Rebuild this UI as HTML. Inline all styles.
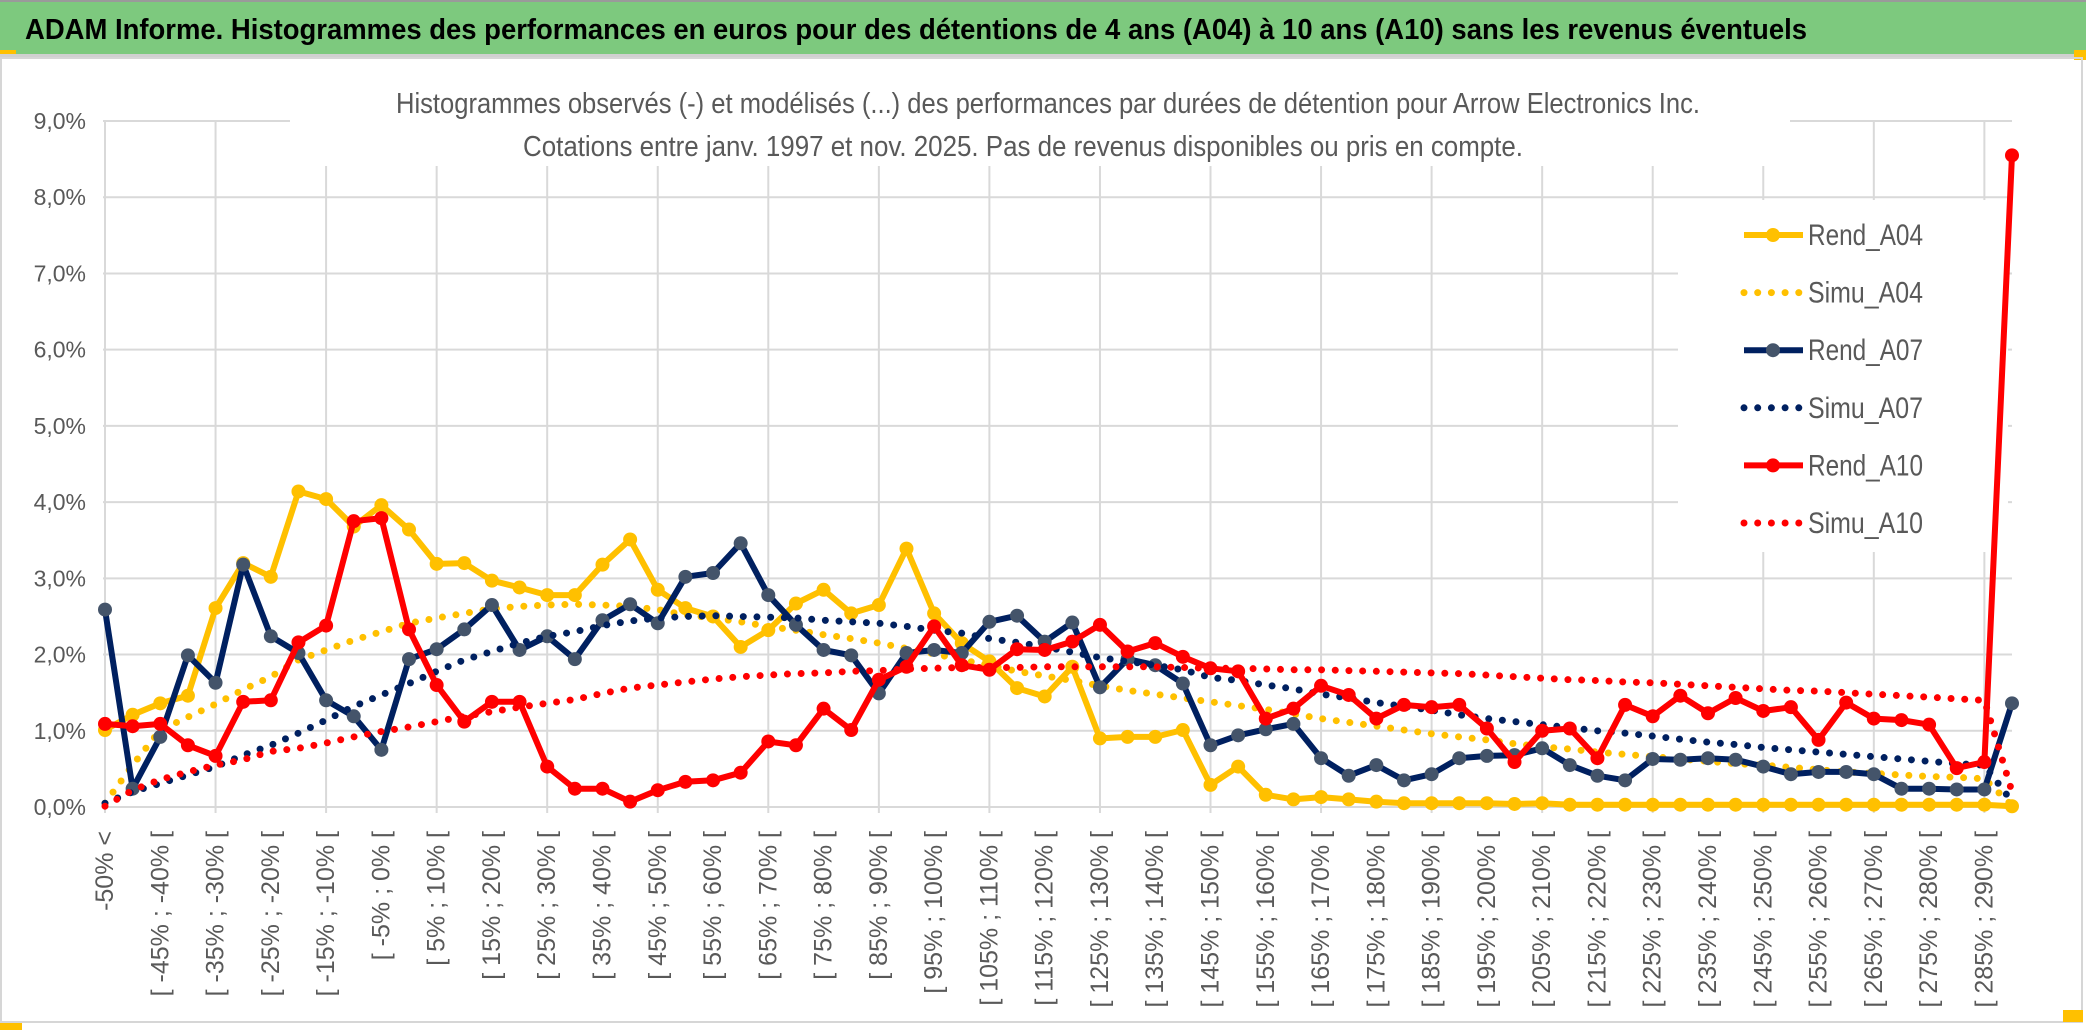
<!DOCTYPE html>
<html><head><meta charset="utf-8">
<style>
html,body{margin:0;padding:0;background:#fff;width:2086px;height:1033px;overflow:hidden}
svg{display:block}
text{font-family:"Liberation Sans Narrow","Liberation Sans",sans-serif}
</style></head>
<body>
<svg id="chart" width="2086" height="1033" viewBox="0 0 2086 1033" xmlns="http://www.w3.org/2000/svg">
  <rect x="0" y="0" width="2086" height="1033" fill="#ffffff"/>
  <rect x="0" y="2" width="2086" height="52" fill="#7dc97e"/>
  <rect x="0" y="0" width="2086" height="2" fill="#9a9a9a"/>
  <rect x="0" y="54" width="2086" height="3" fill="#d0d0d0"/>
  <rect x="0" y="50" width="16" height="4" fill="#ffc000"/>
  <rect x="2074" y="50" width="12" height="10" fill="#ffc000"/>
  <text x="25" y="39" font-size="29" font-weight="bold" fill="#000" textLength="1782" lengthAdjust="spacingAndGlyphs">ADAM Informe. Histogrammes des performances en euros pour des détentions de 4 ans (A04) à 10 ans (A10) sans les revenus éventuels</text>
  <rect x="1" y="58" width="2081" height="964" fill="none" stroke="#d6d6d6" stroke-width="2"/>
  <rect x="0" y="1023" width="22" height="7" fill="#ffc000"/>
  <rect x="2063" y="1010" width="20" height="12" fill="#ffc000"/>
  <g id="grid"></g>
  <g id="yaxis"></g>
  <g id="xaxis"></g>
  <rect x="290" y="78" width="1500" height="88" fill="#fff"/>
  <text x="396" y="113" font-size="29" fill="#595959" textLength="1304" lengthAdjust="spacingAndGlyphs">Histogrammes observés (-) et modélisés (...) des performances par durées de détention pour Arrow Electronics Inc.</text>
  <text x="523" y="156" font-size="29" fill="#595959" textLength="1000" lengthAdjust="spacingAndGlyphs">Cotations entre janv. 1997 et nov. 2025. Pas de revenus disponibles ou pris en compte.</text>
  <rect x="1678" y="200" width="330" height="352" fill="#fff"/>
  <g id="series"></g>
  <g id="legend"></g>
</svg>
<script>
const categoriesCount = 70;
const yTicks = [0,1,2,3,4,5,6,7,8,9];
const rendA04 = [1.01,1.21,1.36,1.46,2.61,3.20,3.02,4.14,4.04,3.68,3.96,3.64,3.19,3.20,2.97,2.88,2.78,
 2.78,3.18,3.51,2.85,2.61,2.50,2.10,2.32,2.67,2.85,2.54,2.65,3.39,2.54,2.15,1.91,1.56,
 1.45,1.84,0.90,0.92,0.92,1.01,0.29,0.53,0.16,0.10,0.13,0.10,0.07,0.05,0.05,0.05,0.05,
 0.04,0.05,0.03,0.03,0.03,0.03,0.03,0.03,0.03,0.03,0.03,0.03,0.03,0.03,0.03,0.03,0.03,0.03,0.01];
const simuA04 = [0.05,0.55,1.01,1.18,1.35,1.54,1.71,1.93,2.06,2.19,2.30,2.41,2.48,2.54,2.60,2.63,2.65,
 2.66,2.65,2.63,2.59,2.52,2.48,2.43,2.37,2.32,2.26,2.21,2.15,2.08,2.01,1.93,1.86,1.78,
 1.72,1.66,1.59,1.53,1.48,1.43,1.38,1.33,1.28,1.22,1.16,1.11,1.06,1.01,0.96,0.92,0.88,
 0.83,0.79,0.76,0.72,0.69,0.66,0.63,0.60,0.57,0.55,0.52,0.49,0.46,0.44,0.42,0.40,0.39,0.37,0.02];
const rendA07 = [2.59,0.24,0.92,1.99,1.63,3.18,2.24,2.02,1.40,1.19,0.75,1.94,2.07,2.33,2.65,2.06,2.24,
 1.94,2.45,2.66,2.41,3.02,3.07,3.46,2.78,2.39,2.06,1.99,1.49,2.02,2.06,2.02,2.43,2.51,
 2.17,2.42,1.57,1.94,1.86,1.62,0.81,0.94,1.02,1.09,0.64,0.41,0.55,0.35,0.43,0.64,0.67,
 0.68,0.77,0.55,0.41,0.35,0.63,0.62,0.64,0.62,0.53,0.43,0.46,0.46,0.43,0.24,0.24,0.23,0.23,1.36];
const simuA07 = [0.05,0.20,0.31,0.42,0.53,0.68,0.81,0.97,1.14,1.32,1.47,1.62,1.78,1.93,2.04,2.15,2.24,
 2.30,2.38,2.44,2.48,2.50,2.51,2.50,2.49,2.48,2.45,2.43,2.41,2.37,2.32,2.28,2.21,2.16,
 2.10,2.03,1.96,1.91,1.86,1.80,1.70,1.66,1.60,1.55,1.48,1.43,1.37,1.32,1.27,1.21,1.16,
 1.12,1.08,1.04,1.00,0.97,0.93,0.89,0.85,0.82,0.78,0.75,0.72,0.69,0.66,0.63,0.60,0.57,0.55,0.07];
const rendA10 = [1.09,1.06,1.09,0.81,0.67,1.38,1.40,2.16,2.38,3.75,3.79,2.33,1.60,1.12,1.38,1.38,0.53,
 0.24,0.24,0.07,0.22,0.33,0.35,0.45,0.86,0.81,1.29,1.01,1.67,1.84,2.37,1.86,1.80,2.07,
 2.06,2.17,2.39,2.04,2.15,1.97,1.82,1.78,1.16,1.29,1.59,1.47,1.16,1.34,1.31,1.34,1.03,
 0.59,1.00,1.03,0.64,1.34,1.19,1.46,1.23,1.43,1.26,1.31,0.88,1.37,1.16,1.14,1.08,0.51,0.59,8.55];
const simuA10 = [0.01,0.22,0.36,0.46,0.55,0.62,0.73,0.77,0.84,0.92,0.99,1.05,1.12,1.19,1.25,1.31,1.36,
 1.41,1.49,1.56,1.60,1.64,1.68,1.71,1.73,1.75,1.76,1.78,1.79,1.81,1.82,1.83,1.83,1.83,
 1.84,1.84,1.84,1.84,1.84,1.83,1.82,1.82,1.81,1.80,1.80,1.79,1.78,1.77,1.76,1.75,1.73,
 1.71,1.69,1.67,1.66,1.64,1.63,1.61,1.59,1.57,1.55,1.53,1.52,1.50,1.48,1.46,1.44,1.42,1.40,0.20];
const seriesNames = ["Rend_A04","Simu_A04","Rend_A07","Simu_A07","Rend_A10","Simu_A10"];

const NS = "http://www.w3.org/2000/svg";
const X0 = 105, X1 = 2012, Y0 = 807, YPER = 76.22;
function xPos(i){ return X0 + i * (X1 - X0) / (categoriesCount - 1); }
function yPos(v){ return Y0 - v * YPER; }
function mk(tag, attrs, parent){ const e = document.createElementNS(NS, tag); for (const k in attrs) e.setAttribute(k, attrs[k]); parent.appendChild(e); return e; }
function catLabel(i){
  if (i === 0) return "-50% <";
  const lo = -50 + 5 * (i - 1), hi = lo + 5;
  return "[ " + lo + "% ; " + hi + "% [";
}

const grid = document.getElementById('grid');
yTicks.forEach(t => {
  const l = mk('line', {x1: X0 - 2, x2: X1, y1: yPos(t), y2: yPos(t), stroke: '#d9d9d9', 'stroke-width': 2}, grid);
  
  
});
for (let i = 0; i < categoriesCount; i += 4) {
  const l = mk('line', {x1: xPos(i), x2: xPos(i), y1: yPos(9), y2: Y0 + 6, stroke: '#d9d9d9', 'stroke-width': 2}, grid);
  
  
}
const yaxis = document.getElementById('yaxis');
yTicks.forEach(t => {
  const tx = mk('text', {x: 86, y: yPos(t) + 8, 'text-anchor': 'end', 'font-size': 23, fill: '#595959'}, yaxis);
  tx.textContent = t.toFixed(1).replace('.', ',') + '%';
  
  
});
const xaxis = document.getElementById('xaxis');
for (let i = 0; i < categoriesCount; i += 2) {
  const x = xPos(i) + 8;
  const tx = mk('text', {x: x, y: 831, 'text-anchor': 'end', 'font-size': 25, fill: '#595959', transform: 'rotate(-90 ' + x + ' 831)'}, xaxis);
  tx.textContent = catLabel(i);
  
  
}

const series = document.getElementById('series');
function drawRend(arr, color, marker, name){
  const g = mk('g', {}, series);
  
  
  const pts = arr.map((v, i) => xPos(i).toFixed(1) + ',' + yPos(v).toFixed(1)).join(' ');
  const pl = mk('polyline', {points: pts, fill: 'none', stroke: color, 'stroke-width': 6, 'stroke-linejoin': 'round'}, g);
  
  
  arr.forEach((v, i) => {
    const c = mk('circle', {cx: xPos(i), cy: yPos(v), r: 7, fill: marker}, g);
    
    
  });
}
function drawSimu(arr, color, name){
  const pts = arr.map((v, i) => xPos(i).toFixed(1) + ',' + yPos(v).toFixed(1)).join(' ');
  const pl = mk('polyline', {points: pts, fill: 'none', stroke: color, 'stroke-width': 7, 'stroke-linecap': 'round', 'stroke-dasharray': '0 13.7'}, series);
  
  
}
drawRend(rendA04, '#ffc000', '#ffc000', 'rend-a04');
drawSimu(simuA04, '#ffc000', 'simu-a04');
drawRend(rendA07, '#002060', '#44546a', 'rend-a07');
drawSimu(simuA07, '#002060', 'simu-a07');
drawRend(rendA10, '#ff0000', '#ff0000', 'rend-a10');
drawSimu(simuA10, '#ff0000', 'simu-a10');

const legend = document.getElementById('legend');
const legColors = ['#ffc000','#ffc000','#002060','#002060','#ff0000','#ff0000'];
const legMarkers = ['#ffc000','#ffc000','#44546a','#44546a','#ff0000','#ff0000'];
seriesNames.forEach((n, k) => {
  const y = 235 + k * 57.6;
  const g = mk('g', {}, legend);
  
  
  if (k % 2 === 0) {
    mk('line', {x1: 1744, x2: 1803, y1: y, y2: y, stroke: legColors[k], 'stroke-width': 6}, g);
    mk('circle', {cx: 1773, cy: y, r: 7, fill: legMarkers[k]}, g);
  } else {
    mk('line', {x1: 1744, x2: 1803, y1: y, y2: y, stroke: legColors[k], 'stroke-width': 7, 'stroke-linecap': 'round', 'stroke-dasharray': '0 13.7'}, g);
  }
  const t = mk('text', {x: 1808, y: y + 10, 'font-size': 30, fill: '#595959', textLength: 115, lengthAdjust: 'spacingAndGlyphs'}, g);
  t.textContent = n;
});
</script>
</body></html>
